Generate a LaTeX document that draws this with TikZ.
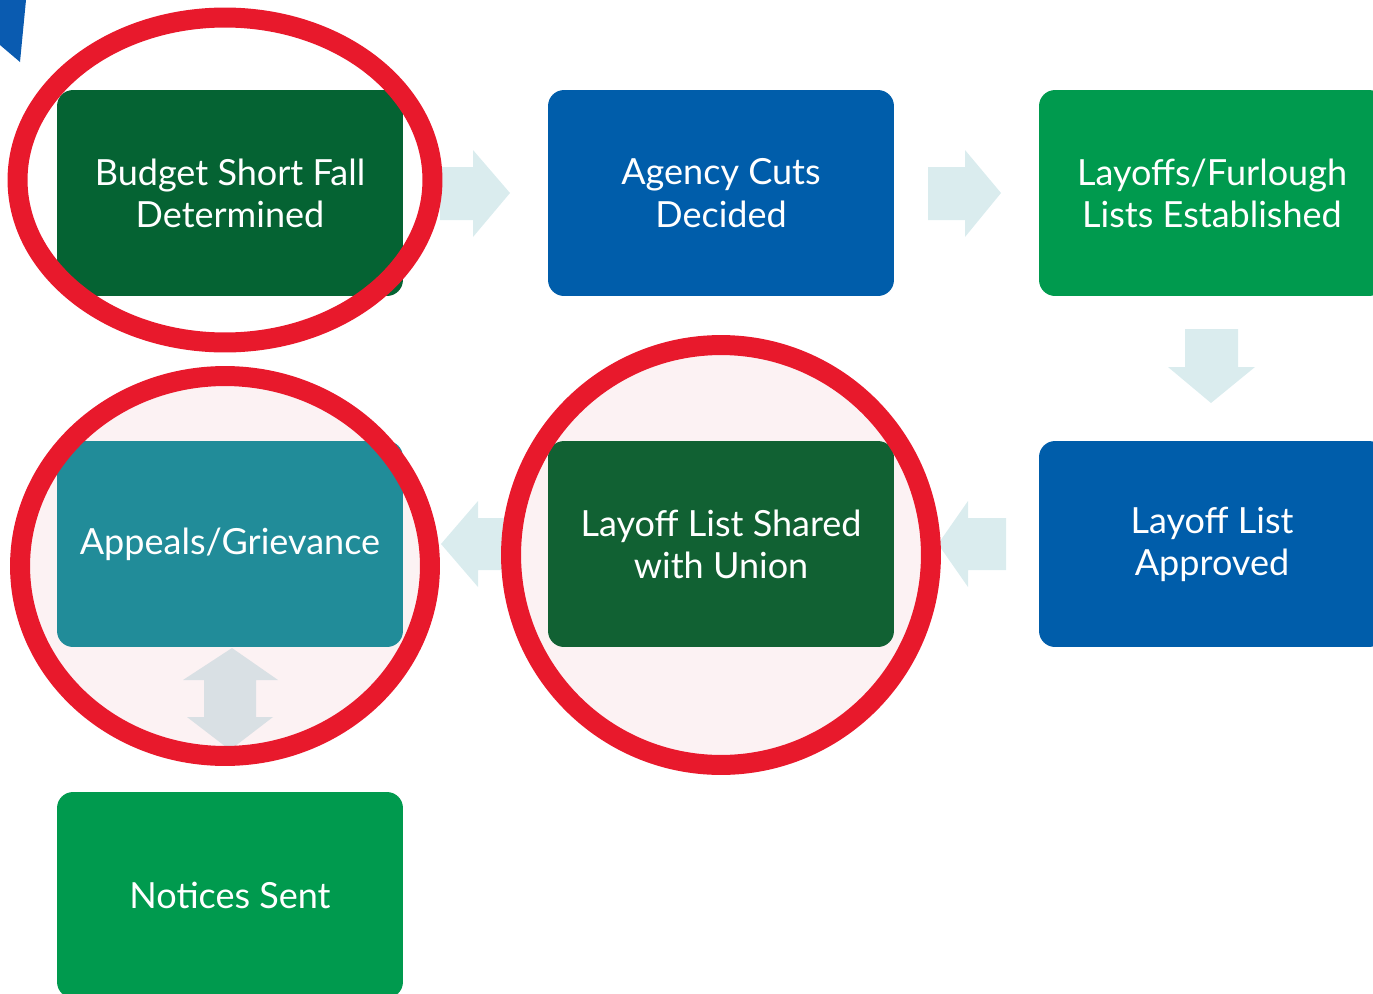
\documentclass[tikz,border=0pt]{standalone}
\usepackage{fontspec}
\setmainfont{Lato}
\definecolor{dkgreen}{HTML}{056333}
\definecolor{dkgreenb}{HTML}{116133}
\definecolor{bblue}{HTML}{005DAA}
\definecolor{bgreen}{HTML}{009A4E}
\definecolor{bteal}{HTML}{218C99}
\definecolor{arrowc}{HTML}{DAECEE}
\definecolor{darrowc}{HTML}{D9E0E4}
\definecolor{ringred}{HTML}{E8192C}
\definecolor{ringfill}{HTML}{FCF2F3}
\definecolor{cornerblue}{HTML}{0A5BB0}
\tikzset{
  stepbox/.style={rectangle, rounded corners=0.32cm, minimum width=6.92cm, minimum height=4.12cm,
    text=white, align=center, inner sep=0pt,
    font=\fontsize{20.5pt}{24pt}\selectfont},
  blockarrow/.style={fill=arrowc, draw=none},
  ring/.style={draw=ringred, line width=0.4cm},
}
\begin{document}
\begin{tikzpicture}[x=0.02cm,y=-0.02cm]
\useasboundingbox (0,0) rectangle (1373,994);
\clip (0,0) rectangle (1373,994);
% corner shape
\fill[cornerblue] (0,0) -- (26,0) -- (20,62) -- (0,45) -- cycle;
% ring fills
\fill[ringfill] (225,566) ellipse [x radius=4.1cm, y radius=3.8cm];
\fill[ringfill] (721,555) circle [radius=4.16cm];
% boxes
\node[stepbox, fill=dkgreen] (b1) at (230,193) {Budget Short Fall\\Determined};
\node[stepbox, fill=bblue] (b2) at (721,193) {Agency Cuts\\Decided};
\node[stepbox, fill=bgreen] (b3) at (1212,193) {Layoffs/Furlough\\Lists Established};
\node[stepbox, fill=bblue] (b4) at (1212,544) {Layoff List\\Approved};
\node[stepbox, fill=dkgreenb] (b5) at (721,544) {Layoff List Shared\\with Union};
\node[stepbox, fill=bteal] (b6) at (230,544) {Appeals/Grievance};
\node[stepbox, fill=bgreen] (b7) at (230,895) {Notices Sent};
% arrows
\fill[blockarrow] (440,167) -- (473,167) -- (473,150) -- (510,193) -- (473,237) -- (473,220) -- (440,220) -- cycle;
\fill[blockarrow] (928,167) -- (965,167) -- (965,150) -- (1001,193) -- (965,237) -- (965,220) -- (928,220) -- cycle;
\fill[blockarrow] (1185,329) -- (1238,329) -- (1238,367) -- (1255,367) -- (1211,403) -- (1168,367) -- (1185,367) -- cycle;
\fill[blockarrow] (1006,518) -- (968,518) -- (968,501) -- (938,544) -- (968,587) -- (968,570) -- (1006,570) -- cycle;
\fill[blockarrow] (510,518) -- (478,518) -- (478,501) -- (441,544) -- (478,587) -- (478,570) -- (510,570) -- cycle;
\fill[darrowc] (232,648) -- (278,680) -- (256,680) -- (256,717) -- (273,717) -- (230,750) -- (187,717) -- (204,717) -- (204,680) -- (183,680) -- cycle;
% rings
\draw[ring] (225,180) ellipse [x radius=4.15cm, y radius=3.25cm];
\draw[ring] (225,566) ellipse [x radius=4.1cm, y radius=3.8cm];
\draw[ring] (721,555) circle [radius=4.2cm];
\end{tikzpicture}
\end{document}
